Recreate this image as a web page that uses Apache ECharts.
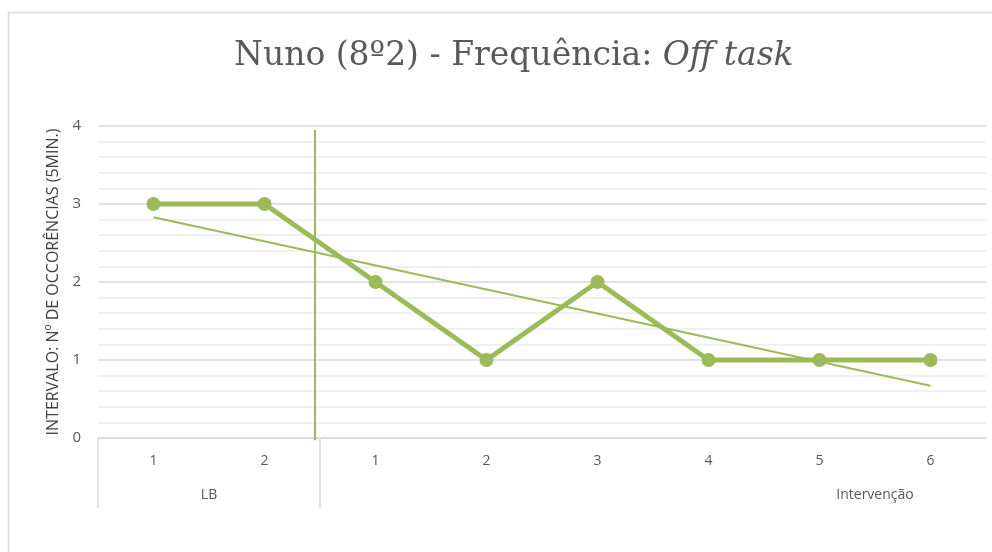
<!DOCTYPE html>
<html>
<head>
<meta charset="utf-8">
<script src="https://cdn.jsdelivr.net/npm/echarts@6/dist/echarts.min.js"></script>
<style>
  html, body { margin: 0; padding: 0; background: #fff; }
  #chart { width: 992px; height: 552px; }
</style>
</head>
<body>
<div id="chart"></div>
<script>
  // data
  var sessions = ['1', '2', '1', '2', '3', '4', '5', '6'];
  var occurrences = [3, 3, 2, 1, 2, 1, 1, 1];
  // linear trend, only the two ends are drawn
  var trend = [2.83, null, null, null, null, null, null, 0.67];
  var phaseNames = ['LB', 'Intervenção'];
  var phaseLabelAt = [1, 7];      // on the 0..8 session scale
  var phaseBorders = [0, 2];
  var phaseChange = [[1.955, 3.95], [1.955, -0.03]];

  var green = '#9BBB59';
  var grey = '#d9d9d9';
  var font = 'Open Sans';

  var chart = echarts.init(document.getElementById('chart'));
  chart.setOption({
    animation: false,
    title: {
      text: '{n|Nuno (8º2) - Frequência: }{i|Off task}',
      left: 229,
      top: 35,
      textStyle: {
        rich: {
          n: { fontFamily: 'DejaVu Serif', fontSize: 33, color: '#595959', fontWeight: 'normal' },
          i: { fontFamily: 'DejaVu Serif', fontSize: 33, color: '#595959', fontWeight: 'normal', fontStyle: 'italic' }
        }
      }
    },
    graphic: [{
      type: 'rect',
      shape: { x: 8.5, y: 12.5, width: 1000, height: 600 },
      style: { fill: 'none', stroke: grey, lineWidth: 1.5 },
      silent: true,
      z: -1
    }],
    grid: { left: 98, right: 6, top: 126, bottom: 114 },
    xAxis: [{
      type: 'category',
      data: sessions,
      boundaryGap: true,
      axisLine: { lineStyle: { color: grey, width: 1.5 } },
      axisTick: { show: false },
      axisLabel: { color: '#595959', fontSize: 14, margin: 16, fontFamily: font }
    }, {
      type: 'value',
      min: 0,
      max: 8,
      position: 'bottom',
      axisLine: { show: false },
      splitLine: { show: false },
      axisTick: {
        show: true,
        customValues: phaseBorders,
        length: 70,
        lineStyle: { color: grey, width: 1.5 }
      },
      axisLabel: {
        customValues: phaseLabelAt,
        margin: 50,
        color: '#595959',
        fontSize: 14,
        fontFamily: font,
        formatter: function (v) { return phaseNames[phaseLabelAt.indexOf(v)]; }
      }
    }],
    yAxis: {
      type: 'value',
      min: 0,
      max: 4,
      interval: 1,
      name: 'INTERVALO: Nº DE OCCORÊNCIAS (5MIN.)',
      nameLocation: 'middle',
      nameRotate: 90,
      nameGap: 32,
      nameTextStyle: { color: '#404040', fontSize: 16, fontFamily: font },
      axisLine: { show: false },
      axisTick: { show: false },
      axisLabel: { color: '#595959', fontSize: 15, margin: 17, fontFamily: font },
      splitLine: { lineStyle: { color: grey, width: 1.5 } },
      minorTick: { show: false, splitNumber: 5 },
      minorSplitLine: { show: true, lineStyle: { color: '#ebebeb', width: 1.5 } }
    },
    series: [{
      name: 'Frequência',
      type: 'line',
      data: occurrences,
      symbol: 'circle',
      symbolSize: 14,
      lineStyle: { color: green, width: 5 },
      itemStyle: { color: green },
      z: 3
    }, {
      name: 'Tendência',
      type: 'line',
      data: trend,
      connectNulls: true,
      symbol: 'none',
      lineStyle: { color: green, width: 2 },
      z: 2
    }, {
      name: 'Mudança de fase',
      type: 'line',
      xAxisIndex: 1,
      data: phaseChange,
      symbol: 'none',
      clip: false,
      lineStyle: { color: green, width: 2 },
      z: 2
    }]
  });
</script>
</body>
</html>
